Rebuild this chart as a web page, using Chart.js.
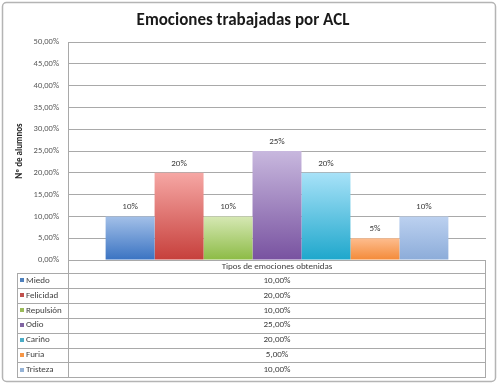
<!DOCTYPE html>
<html>
<head>
<meta charset="utf-8">
<script src="https://cdn.jsdelivr.net/npm/chart.js@4"></script>
<style>
  body { margin: 0; background: #fff; }
  canvas { display: block; }
</style>
</head>
<body>
<canvas id="chart" width="498" height="384"></canvas>
<script>
// chart data
const emotions = ['Miedo', 'Felicidad', 'Repulsión', 'Odio', 'Cariño', 'Furia', 'Tristeza'];
const shares = [0.10, 0.20, 0.10, 0.25, 0.20, 0.05, 0.10];
const categoryLabels = ['Tipos de emociones obtenidas'];

// gradient colours, top -> bottom
const topColors = ['#a3c0e8', '#f6a7a4', '#d6e8b4', '#c8b8de', '#a8e2f8', '#fdbd8f', '#bcd1f0'];
const bottomColors = ['#3a73c2', '#c63f3b', '#8cbb45', '#7852a0', '#1ea7cc', '#f48a38', '#8cacd9'];
const keyColors = ['#4f81bd', '#c0504d', '#9bbb59', '#8064a2', '#4bacc6', '#f79646', '#95b3d7'];

const FONT = 'Carlito, Lato, "Liberation Sans", sans-serif';
const LINE = '#a9a9a9';

function barFill(i) {
    return (ctx) => {
        const chart = ctx.chart;
        if (!chart.chartArea || ctx.type !== 'data') return keyColors[i];
        const y = chart.scales.y;
        const yTop = y.getPixelForValue(ctx.raw);
        const yBase = y.getPixelForValue(0);
        const g = chart.ctx.createLinearGradient(0, yTop, 0, yBase);
        g.addColorStop(0, topColors[i]);
        g.addColorStop(1, bottomColors[i]);
        return g;
    };
}

function pct(v, digits) {
    return (v * 100).toFixed(digits).replace('.', ',') + '%';
}

// white background and rounded outer frame
const framePlugin = {
    id: 'frame',
    beforeDraw(chart) {
        const c = chart.ctx;
        c.save();
        c.fillStyle = '#fff';
        c.fillRect(0, 0, chart.width, chart.height);
        c.strokeStyle = '#b4b4b4';
        c.lineWidth = 1.5;
        c.beginPath();
        c.roundRect(2.5, 2.5, chart.width - 5, chart.height - 5, 4);
        c.stroke();
        c.restore();
    }
};

// "10%" labels over the bars
const valueLabels = {
    id: 'valueLabels',
    afterDatasetsDraw(chart) {
        const c = chart.ctx;
        c.save();
        c.font = '9px ' + FONT;
        c.fillStyle = '#404040';
        c.textAlign = 'center';
        c.textBaseline = 'bottom';
        chart.data.datasets.forEach((ds, i) => {
            const bar = chart.getDatasetMeta(i).data[0];
            c.fillText(Math.round(ds.data[0] * 100) + '%', bar.x, bar.y - 5);
        });
        c.restore();
    }
};

// data table with legend keys under the plot
const dataTable = {
    id: 'dataTable',
    afterDraw(chart) {
        const c = chart.ctx;
        const area = chart.chartArea;
        const left = 17, mid = area.left, right = area.right;
        const top = area.bottom, headH = 13, rowH = 14.9;
        const bottom = top + headH + rowH * emotions.length;
        const cx = (mid + right) / 2;
        c.save();
        c.strokeStyle = LINE;
        c.lineWidth = 1;
        c.beginPath();
        c.moveTo(mid + 0.5, top); c.lineTo(mid + 0.5, bottom);
        c.moveTo(right - 0.5, top); c.lineTo(right - 0.5, bottom);
        c.moveTo(left + 0.5, top + headH); c.lineTo(left + 0.5, bottom);
        for (let r = 0; r <= emotions.length; r++) {
            const y = Math.round(top + headH + r * rowH) + 0.5;
            c.moveTo(left, y); c.lineTo(right, y);
        }
        c.stroke();

        c.font = '9px ' + FONT;
        c.fillStyle = '#404040';
        c.textBaseline = 'middle';
        c.textAlign = 'center';
        c.fillText(categoryLabels[0], cx, top + headH / 2 + 0.5);
        emotions.forEach((name, r) => {
            const y = top + headH + r * rowH + rowH / 2;
            c.fillStyle = keyColors[r];
            c.fillRect(left + 3, Math.round(y) - 2, 4, 4);
            c.fillStyle = '#404040';
            c.textAlign = 'left';
            c.fillText(name, left + 9, y);
            c.textAlign = 'center';
            c.fillText(pct(shares[r], 2), cx, y);
        });
        c.restore();
    }
};

new Chart(document.getElementById('chart'), {
    type: 'bar',
    data: {
        labels: categoryLabels,
        datasets: emotions.map((name, i) => ({
            label: name,
            data: [shares[i]],
            backgroundColor: barFill(i),
            borderWidth: 0,
            categoryPercentage: 0.82,
            barPercentage: 1
        }))
    },
    options: {
        responsive: false,
        devicePixelRatio: 1,
        animation: false,
        layout: { padding: { top: 7, left: 0, right: 12, bottom: 124 } },
        plugins: {
            legend: { display: false },
            tooltip: { enabled: false },
            title: {
                display: true,
                text: 'Emociones trabajadas por ACL',
                color: '#1a1a1a',
                font: { family: FONT, size: 17, weight: 'bold', lineHeight: 1.2 },
                padding: { top: 4, bottom: 10.6 }
            }
        },
        scales: {
            x: { display: false },
            y: {
                min: 0,
                max: 0.5,
                afterFit: (s) => { s.width = 68; },
                border: { color: LINE },
                grid: { color: LINE, drawTicks: false },
                ticks: {
                    stepSize: 0.05,
                    padding: 9,
                    color: '#595959',
                    font: { family: FONT, size: 8.5 },
                    callback: (v) => pct(v, 2)
                },
                title: {
                    display: true,
                    text: 'Nº de alumnos',
                    color: '#262626',
                    font: { family: FONT, size: 9, weight: 'bold', lineHeight: 1.2 },
                    padding: { top: 14.5, bottom: 0 }
                }
            }
        }
    },
    plugins: [framePlugin, valueLabels, dataTable]
});
</script>
</body>
</html>
